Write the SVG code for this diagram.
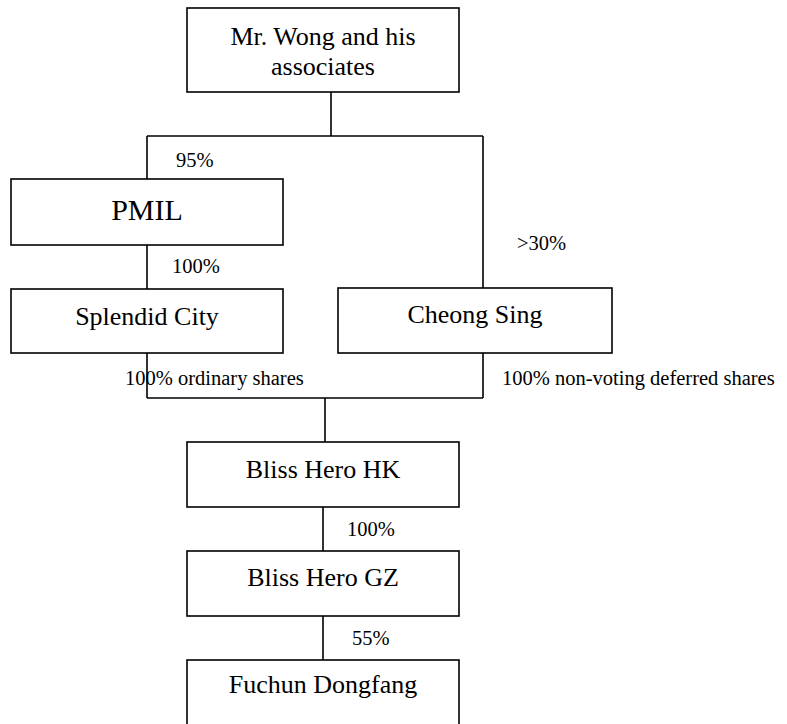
<svg xmlns="http://www.w3.org/2000/svg" width="787" height="724" viewBox="0 0 787 724">
<style>
.box{fill:#fff;stroke:#000;stroke-width:1.6}
.ln{fill:none;stroke:#000;stroke-width:1.6}
.nt{font-family:"Liberation Serif","Times New Roman",serif;font-size:26px;fill:#000;text-anchor:middle}
.lb{font-family:"Liberation Serif","Times New Roman",serif;font-size:20.5px;fill:#000}
</style>
<rect width="787" height="724" fill="#fff"/>
<g id="connectors">
<path class="ln" d="M331,92 V136 M147,136 H483 M147,136 V179 M483,136 V288 M147,245 V289 M147,353 V398 M483,353 V398 M147,398 H483 M325,398 V442 M323,507 V551 M323,616 V660"/>
<text class="lb" x="176" y="167">95%</text>
<text class="lb" x="172" y="273">100%</text>
<text class="lb" x="517" y="250">&gt;30%</text>
<text class="lb" x="125" y="385">100% ordinary shares</text>
<text class="lb" x="502" y="385">100% non-voting deferred shares</text>
<text class="lb" x="347" y="536">100%</text>
<text class="lb" x="352" y="645">55%</text>
</g>
<g id="wong">
<rect class="box" x="187" y="8" width="272" height="84"/>
<text class="nt" x="323" y="45">Mr. Wong and his</text>
<text class="nt" x="323" y="75">associates</text>
</g>
<g id="pmil">
<rect class="box" x="11" y="179" width="272" height="66"/>
<text class="nt" x="147" y="220" style="font-size:30px">PMIL</text>
</g>
<g id="splendid">
<rect class="box" x="11" y="289" width="272" height="64"/>
<text class="nt" x="147" y="325">Splendid City</text>
</g>
<g id="cheong">
<rect class="box" x="338" y="288" width="274" height="65"/>
<text class="nt" x="475" y="323">Cheong Sing</text>
</g>
<g id="blisshk">
<rect class="box" x="187" y="442" width="272" height="65"/>
<text class="nt" x="323" y="478">Bliss Hero HK</text>
</g>
<g id="blissgz">
<rect class="box" x="187" y="551" width="272" height="65"/>
<text class="nt" x="323" y="586">Bliss Hero GZ</text>
</g>
<g id="fuchun">
<rect class="box" x="187" y="660" width="272" height="80"/>
<text class="nt" x="323" y="693">Fuchun Dongfang</text>
</g>
</svg>
